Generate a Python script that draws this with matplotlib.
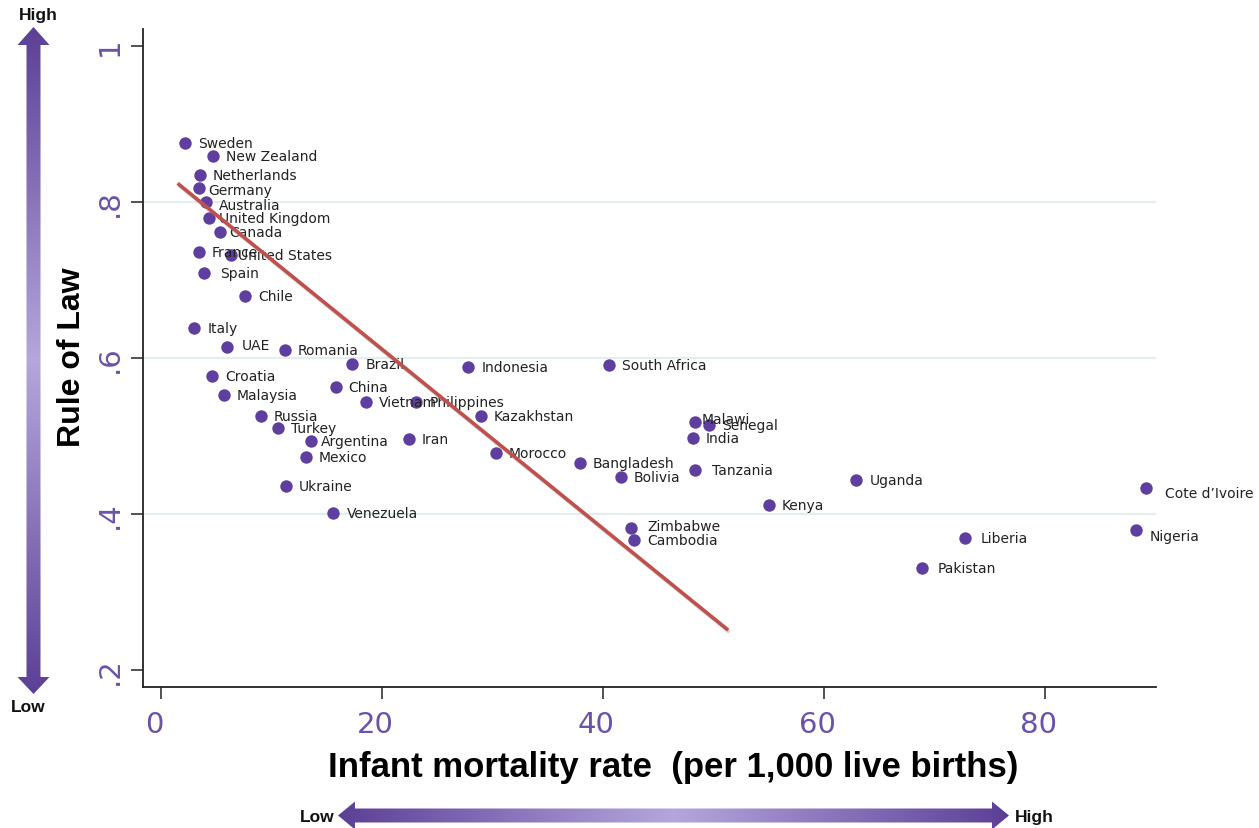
import numpy as np
import matplotlib
matplotlib.use('Agg')
import matplotlib.pyplot as plt
import matplotlib.patheffects as pe
from matplotlib.patches import Polygon
from matplotlib.colors import LinearSegmentedColormap
from matplotlib.transforms import ScaledTranslation

countries = ['Sweden', 'New Zealand', 'Netherlands', 'Germany', 'Australia',
             'United Kingdom', 'Canada', 'France', 'United States', 'Spain',
             'Chile', 'Italy', 'UAE', 'Romania', 'Brazil', 'Indonesia',
             'South Africa', 'Croatia', 'China', 'Malaysia', 'Vietnam',
             'Philippines', 'Kazakhstan', 'Russia', 'Turkey', 'Argentina',
             'Iran', 'Mexico', 'Morocco', 'Ukraine', 'Venezuela', 'Malawi',
             'Senegal', 'India', 'Bangladesh', 'Bolivia', 'Tanzania',
             'Zimbabwe', 'Cambodia', 'Kenya', 'Uganda', 'Cote d\u2019Ivoire',
             'Liberia', 'Nigeria', 'Pakistan']
infant_mortality = [2.2, 4.7, 3.5, 3.4, 4.1,
                    4.3, 5.3, 3.4, 6.3, 3.9,
                    7.6, 3.0, 6.0, 11.2, 17.3, 27.8,
                    40.5, 4.6, 15.8, 5.7, 18.5,
                    23.1, 28.9, 9.0, 10.6, 13.6,
                    22.4, 13.1, 30.3, 11.3, 15.6, 48.3,
                    49.6, 48.1, 37.9, 41.6, 48.3,
                    42.5, 42.8, 55.0, 62.9, 89.1,
                    72.7, 88.2, 68.8]
rule_of_law = [0.876, 0.859, 0.835, 0.818, 0.800,
               0.780, 0.762, 0.736, 0.732, 0.709,
               0.679, 0.638, 0.614, 0.610, 0.592, 0.588,
               0.591, 0.577, 0.563, 0.552, 0.544,
               0.543, 0.525, 0.526, 0.510, 0.494,
               0.496, 0.473, 0.478, 0.436, 0.401, 0.518,
               0.514, 0.497, 0.465, 0.448, 0.456,
               0.382, 0.367, 0.412, 0.444, 0.433,
               0.369, 0.379, 0.330]

# fitted line drawn on the original chart
fit_x = [1.5, 51.3]
fit_y = [0.824, 0.251]

xticks = [0, 20, 40, 60, 80]
yticks = [0.2, 0.4, 0.6, 0.8, 1.0]
ytick_labels = ['.2', '.4', '.6', '.8', '1']

# label offsets in pixels where they differ from the default
label_shift = {'Germany': (10, -2), 'Australia': (13, -3), 'United Kingdom': (10, 0),
               'Canada': (10, 0), 'United States': (7, 0), 'Spain': (16, 0),
               'UAE': (14, 2), 'Argentina': (10, 0), 'Malawi': (7, 3),
               'Tanzania': (17, 0), 'Zimbabwe': (17, 2), 'Liberia': (16, 0),
               'Pakistan': (16, 0), "Cote d\u2019Ivoire": (19, -5), 'Nigeria': (14, -6)}

purple = '#5e3f9f'
tick_purple = '#6a52aa'
bold_font = ['Liberation Sans', 'DejaVu Sans']

W, H = 1259, 829
fig = plt.figure(figsize=(W / 100, H / 100), dpi=100)
ax = fig.add_axes([143 / W, 1 - 688 / H, (1156 - 143) / W, (688 - 30) / H])

for g in [0.4, 0.6, 0.8]:
    ax.axhline(g, color='#e4eef0', linewidth=1.6, zorder=0)

ax.scatter(infant_mortality, rule_of_law, s=80, color=purple, zorder=3, linewidths=0)
for name, xv, yv in zip(countries, infant_mortality, rule_of_law):
    dx, dy = label_shift.get(name, (13, 0))
    ax.annotate(name, (xv, yv), xytext=(dx, dy), textcoords='offset pixels',
                ha='left', va='center', fontsize=10, color='#222222', zorder=4)

ax.plot(fit_x, fit_y, color='#c0504d', linewidth=2.6, zorder=5, solid_capstyle='butt',
        path_effects=[pe.SimpleLineShadow(offset=(1, -1.5), shadow_color='#808080', alpha=0.35),
                      pe.Normal()])

ax.set_xlim(-1.63, 90.0)
ax.set_ylim(0.178, 1.022)
ax.set_xticks(xticks)
ax.set_xticklabels([str(t) for t in xticks], fontsize=21, color=tick_purple)
ax.set_yticks(yticks)
ax.set_yticklabels(ytick_labels, fontsize=21, color=tick_purple, rotation=90, va='center')
ax.tick_params(axis='both', length=8.6, width=1.1, color='#222222')
ax.tick_params(axis='x', pad=8)
ax.tick_params(axis='y', pad=5)
shift = ScaledTranslation(-7 / 100, 0, fig.dpi_scale_trans)
for lab in ax.get_xticklabels():
    lab.set_transform(lab.get_transform() + shift)
ax.spines['top'].set_visible(False)
ax.spines['right'].set_visible(False)
for sp in ['left', 'bottom']:
    ax.spines[sp].set_linewidth(1.3)
    ax.spines[sp].set_color('#222222')

# overlay in pixel coordinates for axis titles and gradient arrows
ov = fig.add_axes([0, 0, 1, 1])
ov.axis('off')

dark, light = '#5b3f96', '#b4a6dc'
cmap = LinearSegmentedColormap.from_list('arrow', [dark, light])
t = np.linspace(0, 1, 256)
ramp = 1 - np.abs(2 * t - 1)


def grad_arrow(verts, extent, horizontal):
    poly = Polygon(verts, closed=True, facecolor='none', edgecolor='none')
    ov.add_patch(poly)
    img = ramp[None, :] if horizontal else ramp[:, None]
    im = ov.imshow(img, cmap=cmap, extent=extent, aspect='auto', interpolation='bilinear')
    im.set_clip_path(poly)


cx = 33.5
grad_arrow([(cx, 28), (cx + 16, 46), (cx + 7, 46), (cx + 7, 678), (cx + 16, 678), (cx, 695),
            (cx - 16, 678), (cx - 7, 678), (cx - 7, 46), (cx - 16, 46)],
           (cx - 17, cx + 17, 696, 27), False)
cy = 816.5
grad_arrow([(338, cy), (355, cy - 14), (355, cy - 7), (992, cy - 7), (992, cy - 14), (1009, cy),
            (992, cy + 14), (992, cy + 7), (355, cy + 7), (355, cy + 14)],
           (337, 1010, cy + 15, cy - 15), True)

ov.text(38, 15, 'High', ha='center', va='center', fontsize=12.5, fontweight='bold',
        family=bold_font, color='#111111')
ov.text(28, 708, 'Low', ha='center', va='center', fontsize=12.5, fontweight='bold',
        family=bold_font, color='#111111')
ov.text(335, 818, 'Low', ha='right', va='center', fontsize=12.5, fontweight='bold',
        family=bold_font, color='#111111')
ov.text(1015, 818, 'High', ha='left', va='center', fontsize=12.5, fontweight='bold',
        family=bold_font, color='#111111')

ov.text(72, 357, 'Rule of Law', rotation=90, ha='center', va='center', fontsize=23,
        fontweight='bold', family=bold_font, color='black')
ov.text(673, 767, 'Infant mortality rate  (per 1,000 live births)', ha='center', va='center',
        fontsize=25, fontweight='bold', family=bold_font, color='black')

ov.set_xlim(0, W)
ov.set_ylim(H, 0)

fig.savefig('out.png', dpi=100)
